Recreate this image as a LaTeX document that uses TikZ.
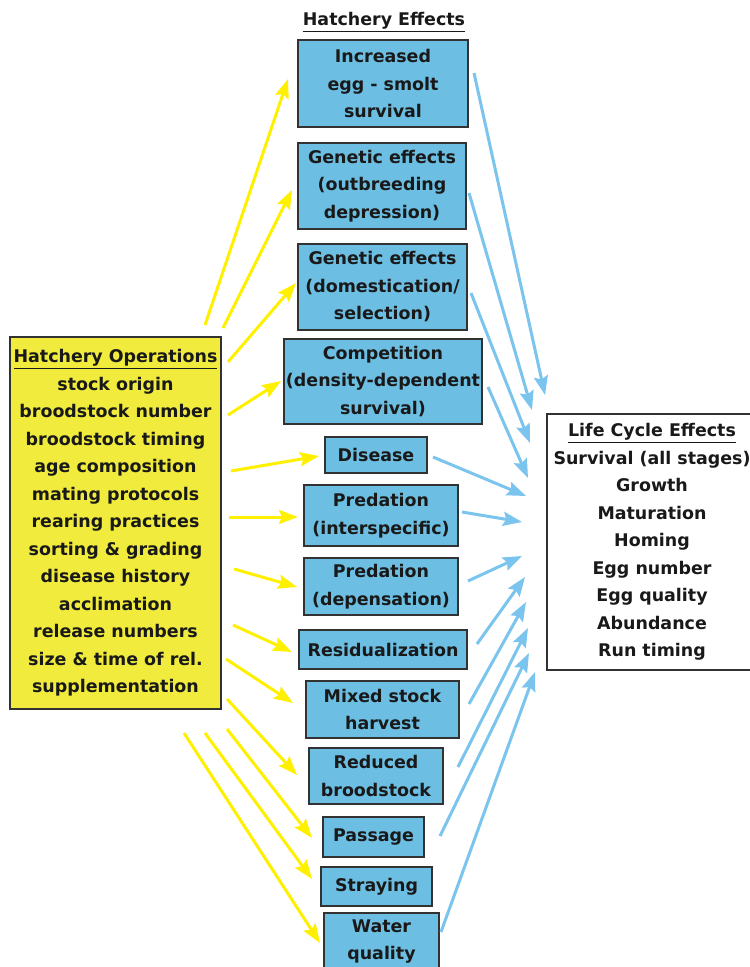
\documentclass[tikz,border=0pt]{standalone}
\usepackage{fontspec}
\setmainfont{DejaVu Sans}
\usetikzlibrary{arrows.meta}
\definecolor{boxblue}{RGB}{108,190,226}
\definecolor{opsyellow}{RGB}{240,235,60}
\definecolor{arryellow}{RGB}{255,240,0}
\definecolor{arrblue}{RGB}{122,196,238}
\definecolor{edgegray}{RGB}{50,50,50}
\definecolor{ink}{RGB}{25,25,25}
\begin{document}
\begin{tikzpicture}[x=1bp,y=-1bp,
  fx/.style={font=\fontsize{17.5}{27.6}\selectfont\bfseries, text=ink},
  ebox/.style={fx, draw=edgegray, line width=1.4bp, fill=boxblue, align=center, inner sep=0pt},
  opsbox/.style={fx, draw=edgegray, line width=1.4bp, fill=opsyellow, align=center, inner sep=0pt},
  lifebox/.style={fx, draw=edgegray, line width=1.4bp, fill=white, align=center, inner sep=0pt},
  yarrow/.style={draw=arryellow, line width=3bp, -{Stealth[length=19bp,width=14bp,inset=3bp]}},
  barrow/.style={draw=arrblue, line width=3bp, -{Stealth[length=19bp,width=14bp,inset=3bp]}}
]
\useasboundingbox (0,0) rectangle (750,967);
\clip (0,0) rectangle (750,967);

% title
\node[fx] (title) at (384,22) {\underline{Hatchery Effects}};

% hatchery effects boxes
\node[ebox, minimum width=170bp, minimum height=87bp] (inc) at (383,83.5) {Increased\\egg - smolt\\survival};
\node[ebox, minimum width=168bp, minimum height=86bp] (gen1) at (382,186) {Genetic effects\\(outbreeding\\depression)};
\node[ebox, minimum width=169bp, minimum height=86bp] (gen2) at (382.5,287) {Genetic effects\\(domestication/\\selection)};
\node[ebox, minimum width=198bp, minimum height=85bp] (comp) at (383,381.5) {Competition\\(density-dependent\\survival)};
\node[ebox, minimum width=102bp, minimum height=36bp] (dis) at (376,455) {Disease};
\node[ebox, minimum width=154bp, minimum height=61bp] (pred1) at (381,515.5) {Predation\\(interspecific)};
\node[ebox, minimum width=154bp, minimum height=57bp] (pred2) at (381,586.5) {Predation\\(depensation)};
\node[ebox, minimum width=168bp, minimum height=39bp] (resid) at (383,649.5) {Residualization};
\node[ebox, minimum width=153bp, minimum height=57bp] (mixed) at (382.5,709.5) {Mixed stock\\harvest};
\node[ebox, minimum width=134bp, minimum height=56bp] (reduced) at (376,776) {Reduced\\broodstock};
\node[ebox, minimum width=101bp, minimum height=40bp] (passage) at (373.5,837) {Passage};
\node[ebox, minimum width=111bp, minimum height=39bp] (straying) at (376.5,886.5) {Straying};
\node[ebox, minimum width=115bp, minimum height=57bp] (water) at (381.5,941.5) {Water\\quality};

% hatchery operations
\node[opsbox, minimum width=211bp, minimum height=372bp] (ops) at (115.5,523)
  {\underline{Hatchery Operations}\\stock origin\\broodstock number\\broodstock timing\\age composition\\mating protocols\\rearing practices\\sorting \& grading\\disease history\\acclimation\\release numbers\\size \& time of rel.\\supplementation};

% life cycle effects
\node[lifebox, minimum width=210bp, minimum height=256bp] (life) at (652,542)
  {\underline{Life Cycle Effects}\\Survival (all stages)\\Growth\\Maturation\\Homing\\Egg number\\Egg quality\\Abundance\\Run timing};

% yellow arrow coordinates
\coordinate (ys1) at (205,325);  \coordinate (ye1) at (288,79);
\coordinate (ys2) at (223,328);  \coordinate (ye2) at (292,190);
\coordinate (ys3) at (228,362);  \coordinate (ye3) at (296,283);
\coordinate (ys4) at (228,415);  \coordinate (ye4) at (281,381);
\coordinate (ys5) at (231,471);  \coordinate (ye5) at (319,456);
\coordinate (ys6) at (229,517);  \coordinate (ye6) at (298,517);
\coordinate (ys7) at (234,569);  \coordinate (ye7) at (297,587);
\coordinate (ys8) at (233,625);  \coordinate (ye8) at (292,652);
\coordinate (ys9) at (226,659);  \coordinate (ye9) at (293,703);
\coordinate (ys10) at (227,699); \coordinate (ye10) at (297,775);
\coordinate (ys11) at (227,729); \coordinate (ye11) at (312,838);
\coordinate (ys12) at (205,733); \coordinate (ye12) at (312,879);
\coordinate (ys13) at (184,733); \coordinate (ye13) at (320,943);
\foreach \i in {1,...,13} { \draw[yarrow] (ys\i) -- (ye\i); }

% blue arrow coordinates
\coordinate (bs1) at (474,73);   \coordinate (be1) at (545,395);
\coordinate (bs2) at (469,193);  \coordinate (be2) at (532,410);
\coordinate (bs3) at (471,293);  \coordinate (be3) at (530,443);
\coordinate (bs4) at (488,387);  \coordinate (be4) at (528,478);
\coordinate (bs5) at (433,457);  \coordinate (be5) at (526,496);
\coordinate (bs6) at (462,512);  \coordinate (be6) at (522,522);
\coordinate (bs7) at (468,581);  \coordinate (be7) at (522,556);
\coordinate (bs8) at (477,644);  \coordinate (be8) at (525,577);
\coordinate (bs9) at (469,704);  \coordinate (be9) at (526,602);
\coordinate (bs10) at (458,767); \coordinate (be10) at (528,628);
\coordinate (bs11) at (440,836); \coordinate (be11) at (529,653);
\coordinate (bs12) at (441,932); \coordinate (be12) at (535,672);
\foreach \i in {1,...,12} { \draw[barrow] (bs\i) -- (be\i); }
\end{tikzpicture}
\end{document}
